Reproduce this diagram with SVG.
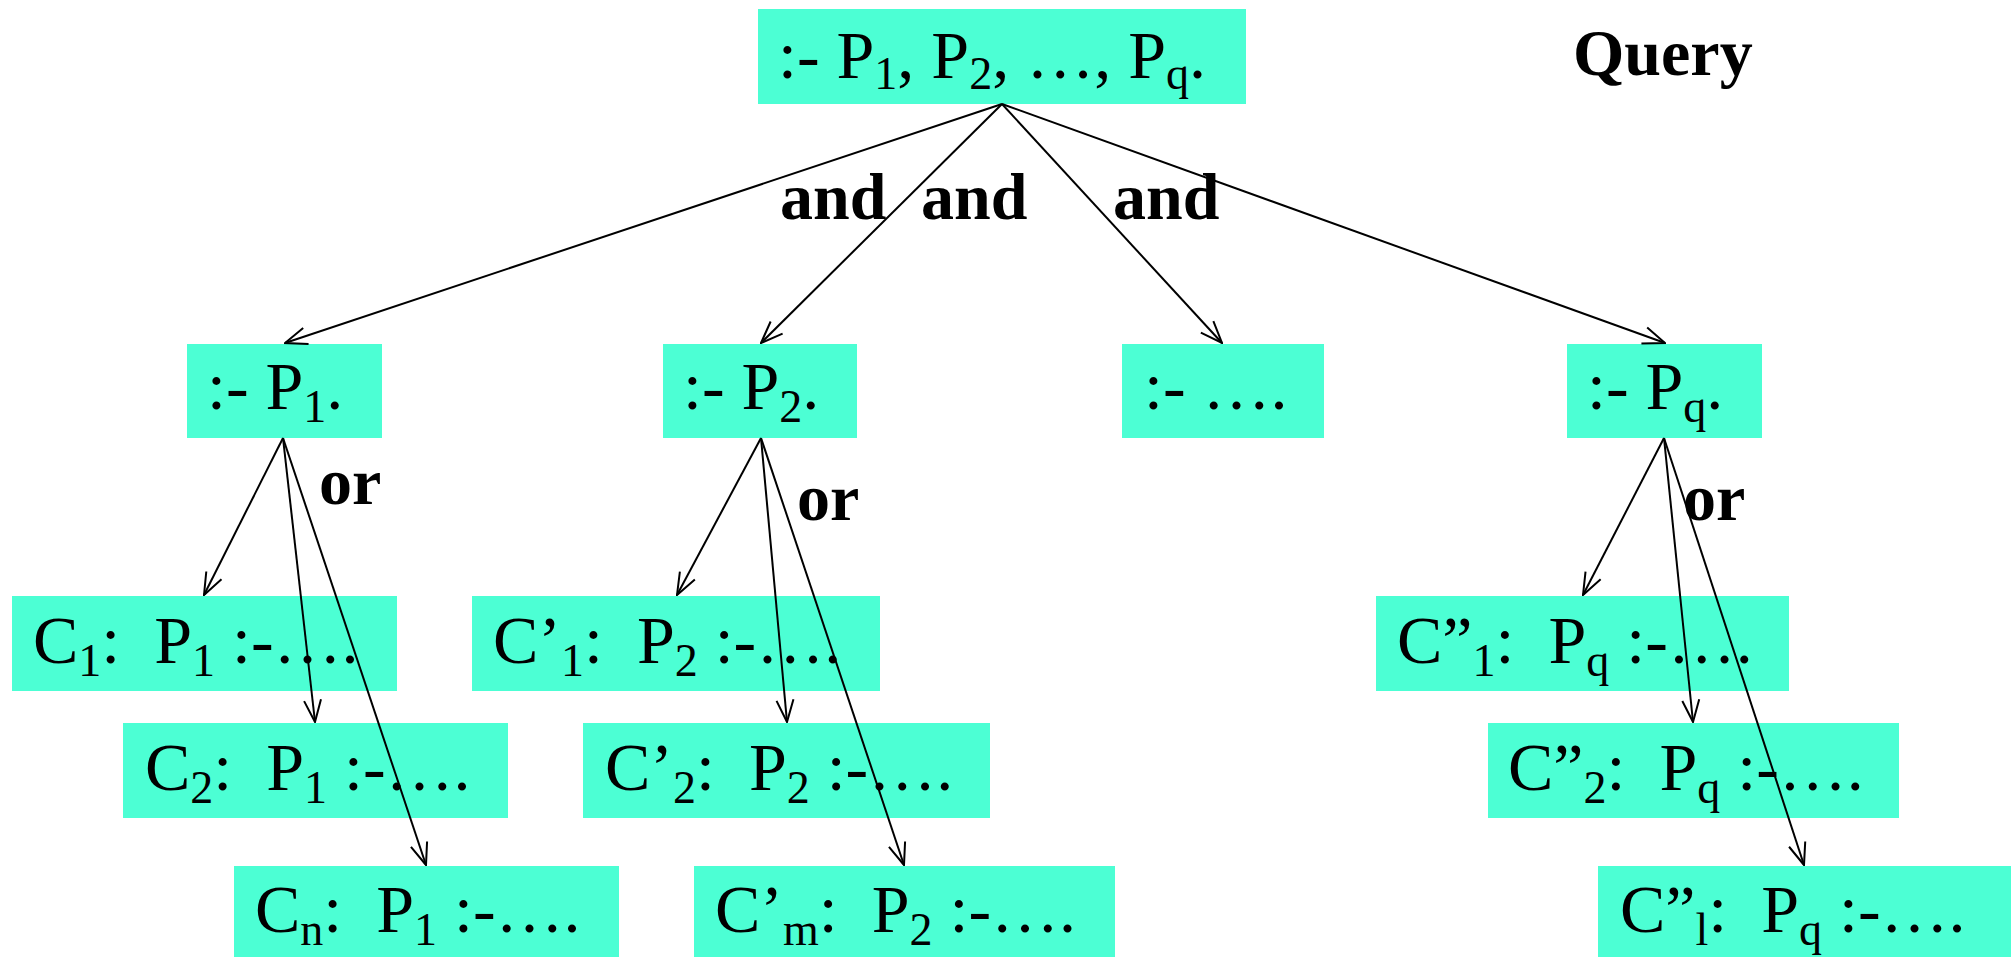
<svg xmlns="http://www.w3.org/2000/svg" width="2015" height="957" viewBox="0 0 2015 957">
<style>
.box{fill:#4CFFD4;stroke:none}
.t{font-family:"Liberation Serif","Times New Roman",serif;font-size:68px;fill:#000;white-space:pre}
.b{font-family:"Liberation Serif","Times New Roman",serif;font-size:66px;font-weight:bold;fill:#000}
.s{font-size:46px}
.c{stroke:#000;stroke-width:2;fill:none}
</style>
<defs>
<marker id="ah" viewBox="0 0 24 20" refX="23" refY="10" markerWidth="24" markerHeight="20" markerUnits="userSpaceOnUse" orient="auto">
<path d="M1,1.5 L23,10 L1,18.5" fill="none" stroke="#000" stroke-width="2"/>
</marker>
</defs>
<rect width="2015" height="957" fill="#fff"/>
<g id="query"><rect class="box" x="758" y="9" width="488" height="95"/><text class="t" x="778" y="78">:- P<tspan class="s" dy="11">1</tspan><tspan dy="-11">, P</tspan><tspan class="s" dy="11">2</tspan><tspan dy="-11">, …, P</tspan><tspan class="s" dy="11">q</tspan><tspan dy="-11">.</tspan></text></g>
<g id="p1"><rect class="box" x="187" y="344" width="195" height="94"/><text class="t" x="207" y="409">:- P<tspan class="s" dy="13">1</tspan><tspan dy="-13">.</tspan></text></g>
<g id="p2"><rect class="box" x="663" y="344" width="194" height="94"/><text class="t" x="683" y="409">:- P<tspan class="s" dy="13">2</tspan><tspan dy="-13">.</tspan></text></g>
<g id="pdots"><rect class="box" x="1122" y="344" width="202" height="94"/><text class="t" x="1144" y="409">:- ….</text></g>
<g id="pq"><rect class="box" x="1567" y="344" width="195" height="94"/><text class="t" x="1587" y="409">:- P<tspan class="s" dy="13">q</tspan><tspan dy="-13">.</tspan></text></g>
<g id="c1"><rect class="box" x="12" y="596" width="385" height="95"/><text class="t" x="33" y="663">C<tspan class="s" dy="13">1</tspan><tspan dy="-13">:  P</tspan><tspan class="s" dy="13">1</tspan><tspan dy="-13"> :-….</tspan></text></g>
<g id="c2"><rect class="box" x="123" y="723" width="385" height="95"/><text class="t" x="145" y="790">C<tspan class="s" dy="13">2</tspan><tspan dy="-13">:  P</tspan><tspan class="s" dy="13">1</tspan><tspan dy="-13"> :-….</tspan></text></g>
<g id="cn"><rect class="box" x="234" y="866" width="385" height="91"/><text class="t" x="255" y="932">C<tspan class="s" dy="13">n</tspan><tspan dy="-13">:  P</tspan><tspan class="s" dy="13">1</tspan><tspan dy="-13"> :-….</tspan></text></g>
<g id="cp1"><rect class="box" x="472" y="596" width="408" height="95"/><text class="t" x="493" y="663">C’<tspan class="s" dy="13">1</tspan><tspan dy="-13">:  P</tspan><tspan class="s" dy="13">2</tspan><tspan dy="-13"> :-….</tspan></text></g>
<g id="cp2"><rect class="box" x="583" y="723" width="407" height="95"/><text class="t" x="605" y="790">C’<tspan class="s" dy="13">2</tspan><tspan dy="-13">:  P</tspan><tspan class="s" dy="13">2</tspan><tspan dy="-13"> :-….</tspan></text></g>
<g id="cpm"><rect class="box" x="694" y="866" width="421" height="91"/><text class="t" x="715" y="932">C’<tspan class="s" dy="13">m</tspan><tspan dy="-13">:  P</tspan><tspan class="s" dy="13">2</tspan><tspan dy="-13"> :-….</tspan></text></g>
<g id="cpp1"><rect class="box" x="1376" y="596" width="413" height="95"/><text class="t" x="1397" y="663">C”<tspan class="s" dy="13">1</tspan><tspan dy="-13">:  P</tspan><tspan class="s" dy="13">q</tspan><tspan dy="-13"> :-….</tspan></text></g>
<g id="cpp2"><rect class="box" x="1488" y="723" width="411" height="95"/><text class="t" x="1508" y="790">C”<tspan class="s" dy="13">2</tspan><tspan dy="-13">:  P</tspan><tspan class="s" dy="13">q</tspan><tspan dy="-13"> :-….</tspan></text></g>
<g id="cppl"><rect class="box" x="1598" y="866" width="413" height="91"/><text class="t" x="1620" y="932">C”<tspan class="s" dy="13">l</tspan><tspan dy="-13">:  P</tspan><tspan class="s" dy="13">q</tspan><tspan dy="-13"> :-….</tspan></text></g>
<g id="connectors">
<line class="c" x1="1002" y1="104" x2="285" y2="343" marker-end="url(#ah)"/>
<line class="c" x1="1002" y1="104" x2="761" y2="343" marker-end="url(#ah)"/>
<line class="c" x1="1002" y1="104" x2="1222" y2="343" marker-end="url(#ah)"/>
<line class="c" x1="1002" y1="104" x2="1665" y2="343" marker-end="url(#ah)"/>
<line class="c" x1="283" y1="438" x2="204" y2="595" marker-end="url(#ah)"/>
<line class="c" x1="283" y1="438" x2="315" y2="722" marker-end="url(#ah)"/>
<line class="c" x1="283" y1="438" x2="426" y2="865" marker-end="url(#ah)"/>
<line class="c" x1="761" y1="438" x2="677" y2="595" marker-end="url(#ah)"/>
<line class="c" x1="761" y1="438" x2="787" y2="722" marker-end="url(#ah)"/>
<line class="c" x1="761" y1="438" x2="904" y2="865" marker-end="url(#ah)"/>
<line class="c" x1="1664" y1="438" x2="1583" y2="595" marker-end="url(#ah)"/>
<line class="c" x1="1664" y1="438" x2="1693" y2="722" marker-end="url(#ah)"/>
<line class="c" x1="1664" y1="438" x2="1804" y2="865" marker-end="url(#ah)"/>
</g>
<g id="labels">
<text class="b" x="1573" y="75">Query</text>
<text class="b" x="780" y="219">and</text>
<text class="b" x="921" y="219">and</text>
<text class="b" x="1113" y="219">and</text>
<text class="b" x="319" y="504">or</text>
<text class="b" x="797" y="520">or</text>
<text class="b" x="1683" y="520">or</text>
</g>
</svg>
